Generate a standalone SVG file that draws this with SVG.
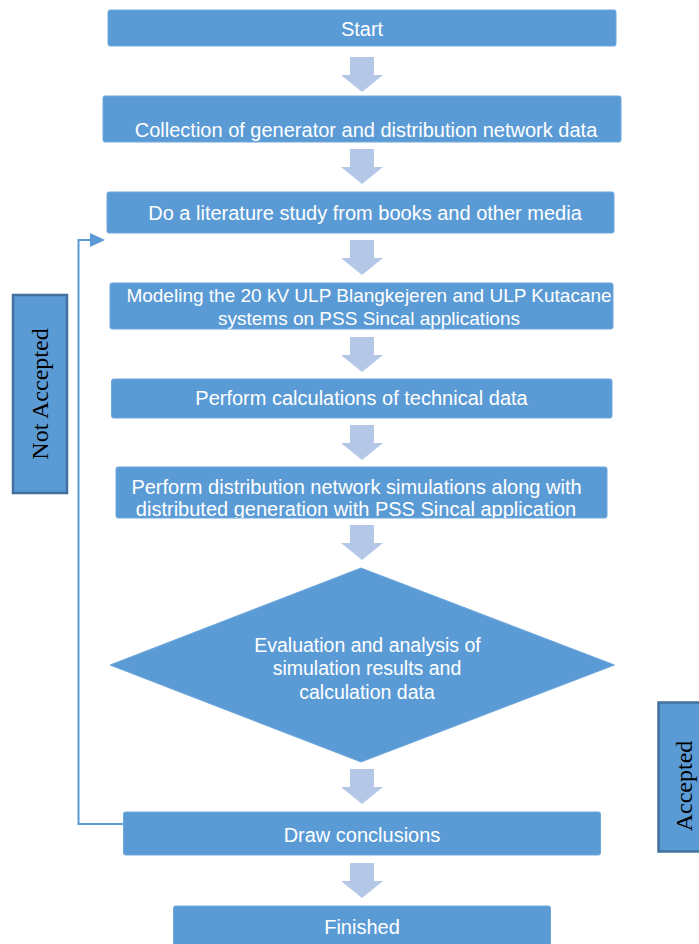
<svg xmlns="http://www.w3.org/2000/svg" xmlns:xlink="http://www.w3.org/1999/xlink" width="699" height="944" viewBox="0 0 699 944">
<style>
.box{fill:#5B9BD5;stroke:#6FA8DC;stroke-width:1}
.t{font-family:"Liberation Sans",Arial,sans-serif;font-size:20px;fill:#FFFFFF;text-anchor:middle}
.sm{font-size:19px}
.md{font-size:19.5px}
.lbl{fill:#5B9BD5;stroke:#41719C;stroke-width:2.5}
.lt{font-family:"Liberation Serif","Times New Roman",serif;font-size:24px;fill:#000000;text-anchor:middle}
.blk{fill:#B4C7E7}
.loop{fill:none;stroke:#5B9BD5;stroke-width:2}
</style>
<defs>
<path id="down" d="M-12,0 H12 V18 H21 L0,35 L-21,18 H-12 Z"/>
<marker id="head" markerUnits="userSpaceOnUse" markerWidth="16" markerHeight="15" refX="1" refY="7" orient="auto">
<path d="M0,0 L15,7 L0,14 Z" fill="#5B9BD5"/>
</marker>
<clipPath id="clipDist"><rect x="116" y="467" width="491" height="51"/></clipPath>
</defs>
<rect width="699" height="944" fill="#FFFFFF"/>
<g id="connectors">
<use href="#down" class="blk" x="362" y="57"/>
<use href="#down" class="blk" x="362" y="149"/>
<use href="#down" class="blk" x="362" y="240"/>
<use href="#down" class="blk" x="362" y="337"/>
<use href="#down" class="blk" x="362" y="425"/>
<use href="#down" class="blk" x="362" y="525"/>
<use href="#down" class="blk" x="362" y="769"/>
<use href="#down" class="blk" x="362" y="863"/>
<path class="loop" d="M123,824 H78.5 V240 H91" marker-end="url(#head)"/>
</g>
<g id="start">
<rect class="box" x="108" y="10" width="508" height="36" rx="2"/>
<text class="t" x="362" y="36">Start</text>
</g>
<g id="collection">
<rect class="box" x="103" y="96" width="518" height="46" rx="2"/>
<text class="t" x="366" y="137">Collection of generator and distribution network data</text>
</g>
<g id="literature">
<rect class="box" x="107" y="192" width="507" height="41" rx="2"/>
<text class="t" x="365" y="220">Do a literature study from books and other media</text>
</g>
<g id="modeling">
<rect class="box" x="110" y="283" width="503" height="46" rx="2"/>
<text class="t sm" x="369" y="302">Modeling the 20 kV ULP Blangkejeren and ULP Kutacane</text>
<text class="t sm" x="369" y="324.5">systems on PSS Sincal applications</text>
</g>
<g id="calculations">
<rect class="box" x="111.5" y="379" width="500.5" height="39" rx="2"/>
<text class="t" x="361.5" y="405">Perform calculations of technical data</text>
</g>
<g id="simulation">
<rect class="box" x="116" y="467" width="491" height="51" rx="2"/>
<g clip-path="url(#clipDist)">
<text class="t" x="356.5" y="493.5">Perform distribution network simulations along with</text>
<text class="t" x="356" y="516">distributed generation with PSS Sincal application</text>
</g>
</g>
<g id="evaluation">
<polygon class="box" points="361,568 614.5,665 361,762 110,665"/>
<text class="t md" x="367.5" y="652">Evaluation and analysis of</text>
<text class="t md" x="367" y="674.5">simulation results and</text>
<text class="t md" x="367" y="698.5">calculation data</text>
</g>
<g id="conclusions">
<rect class="box" x="123.5" y="812" width="477" height="43" rx="2"/>
<text class="t" x="362" y="842">Draw conclusions</text>
</g>
<g id="finished">
<rect class="box" x="173.5" y="906" width="377" height="45" rx="2"/>
<text class="t" x="362" y="933.5">Finished</text>
</g>
<g id="not-accepted">
<rect class="lbl" x="13" y="295" width="54" height="198"/>
<text class="lt" transform="translate(48,394) rotate(-90)">Not Accepted</text>
</g>
<g id="accepted">
<rect class="lbl" x="658.5" y="702.5" width="45" height="149"/>
<text class="lt" font-size="23.5" transform="translate(692,786) rotate(-90)">Accepted</text>
</g>
</svg>
